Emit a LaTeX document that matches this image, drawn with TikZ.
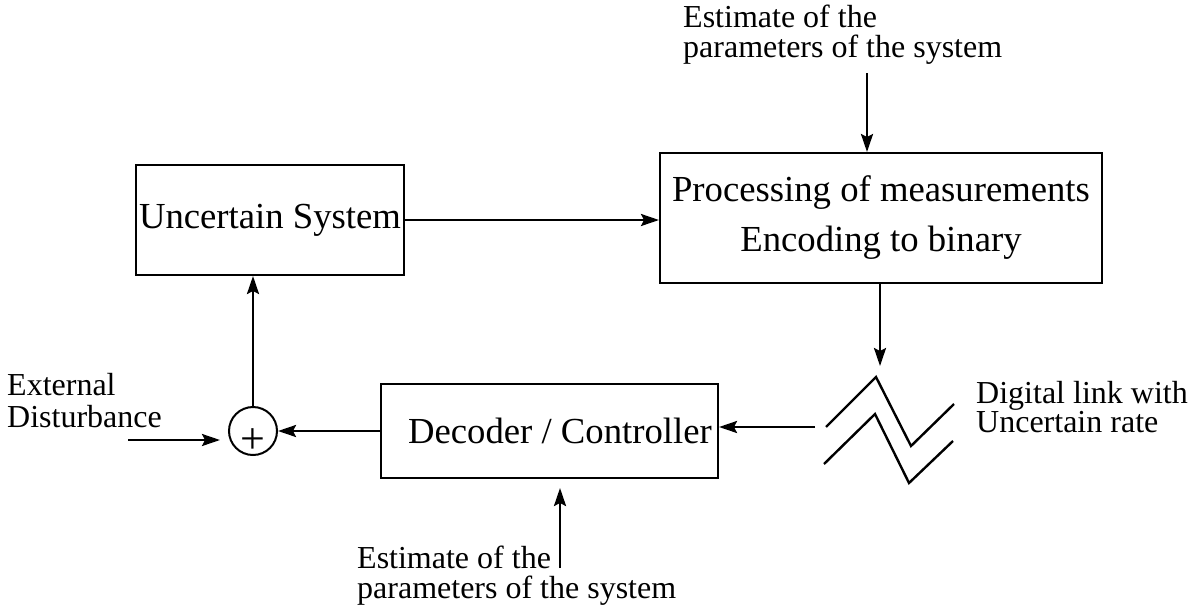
\documentclass[tikz,border=0pt]{standalone}
\usepackage{fontspec}
\setmainfont{Liberation Serif}
\usetikzlibrary{arrows.meta}
\newcommand{\bigf}{\fontsize{36.7pt}{50pt}\selectfont}
\newcommand{\smallf}{\fontsize{32pt}{30pt}\selectfont}
\begin{document}
\begin{tikzpicture}[x=1pt,y=-1pt,
  blk/.style={draw,line width=2pt,rectangle,inner sep=0pt,font=\bigf},
  lbl/.style={inner sep=0pt,align=left,font=\smallf,anchor=north west},
  arr/.style={line width=2.4pt,-{Stealth[length=18pt,width=12pt,inset=3pt]}},
  ln/.style={line width=2.4pt}]
\useasboundingbox (0,0) rectangle (1196,611);
% blocks
\node[blk,minimum width=268pt,minimum height=110pt] (us) at (270,220) {Uncertain System};
\node[blk,minimum width=442pt,minimum height=130pt,align=center] (proc) at (881,218)
  {Processing of measurements\\Encoding to binary};
\node[blk,minimum width=337pt,minimum height=94pt] (dec) at (549.5,431) {\hspace*{21pt}Decoder / Controller};
\node[draw,circle,line width=2pt,minimum size=48pt,inner sep=0pt,
  label={[font=\fontsize{44pt}{44pt}\selectfont,yshift=-10pt,inner sep=0pt]center:+}] (sum) at (253,431) {};
% labels
\node[lbl] (topest) at (683,5) {Estimate of the\\parameters of the system};
\node[lbl] (botest) at (357,546) {Estimate of the\\parameters of the system};
\node[lbl,font=\fontsize{32pt}{32pt}\selectfont] (ext) at (7,373) {External\\Disturbance};
\node[lbl,font=\fontsize{32pt}{28pt}\selectfont] (dig) at (976,381) {Digital link with\\Uncertain rate};
% digital link zigzag
\draw[ln] (826,427) -- (876,377) -- (911,446) -- (954,404);
\draw[ln] (824,464) -- (875,414) -- (909,483) -- (953,441);
\coordinate (linktop) at (880,366);
\coordinate (linkleft) at (815,427);
\coordinate (t1) at (867,73);
\coordinate (b1) at (560,568);
\coordinate (e1) at (128,440);
% connectors
\draw[arr] (us.east) -- (us.east -| proc.west);
\draw[arr] (t1) -- (t1 |- proc.north);
\draw[arr] (proc.south -| linktop) -- (linktop);
\draw[arr] (linkleft) -- (linkleft -| dec.east);
\draw[arr] (dec.west) -- (sum.east);
\draw[arr] (sum.north) -- (sum.north |- us.south);
\draw[arr] (e1) -- ++(92,0);
\draw[arr] (b1) -- ++(0,-80);
\end{tikzpicture}
\end{document}
